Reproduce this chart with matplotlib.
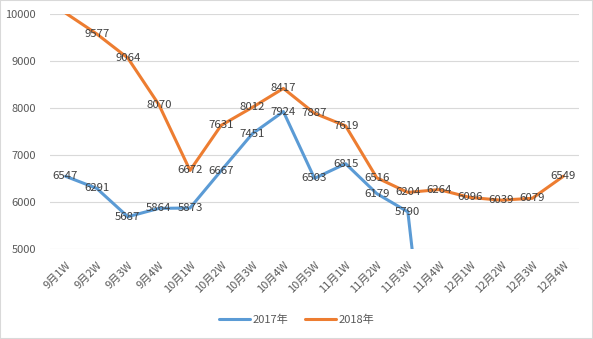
import numpy as np
import matplotlib.pyplot as plt

plt.rcParams['font.family'] = ['Noto Sans CJK SC', 'DejaVu Sans']

# data
weeks = ['9月1W', '9月2W', '9月3W', '9月4W', '10月1W', '10月2W', '10月3W', '10月4W',
         '10月5W', '11月1W', '11月2W', '11月3W', '11月4W', '12月1W', '12月2W',
         '12月3W', '12月4W']
sales_2017 = [6547, 6291, 5687, 5864, 5873, 6667, 7451, 7924, 6503, 6815, 6179, 5790,
              0, np.nan, np.nan, np.nan, np.nan]
sales_2018 = [10020, 9577, 9064, 8070, 6672, 7631, 8012, 8417, 7887, 7619, 6516, 6204,
              6264, 6096, 6039, 6079, 6549]

ymin, ymax = 5000, 10000

fig = plt.figure(figsize=(5.93, 3.39), dpi=100)
ax = fig.add_axes([50/593, 1-249/339, 529/593, 235/339])

x = np.arange(len(weeks))
ax.plot(x, sales_2017, color='#5B9BD5', lw=2.2, label='2017年', solid_capstyle='round')
ax.plot(x, sales_2018, color='#ED7D31', lw=2.2, label='2018年', solid_capstyle='round')

# data labels (only inside the axis range, like Excel)
for series in (sales_2017, sales_2018):
    for i, v in enumerate(series):
        if np.isnan(v) or v < ymin or v > ymax:
            continue
        ax.text(i, v, str(int(v)), ha='center', va='center', fontsize=8.2,
                color='#404040')

ax.set_xlim(-0.5, len(weeks) - 0.5)
ax.set_ylim(ymin, ymax)
ax.set_yticks(np.arange(5000, 10001, 1000))
ax.set_xticks(x)
ax.set_xticklabels(weeks, rotation=45, ha='right', va='top', rotation_mode='anchor')
ax.tick_params(axis='both', length=0, labelsize=8, labelcolor='#595959')
ax.tick_params(axis='y', pad=10)
ax.tick_params(axis='x', pad=8)
ax.grid(axis='y', color='#D9D9D9', lw=0.8)
ax.set_axisbelow(True)
for s in ax.spines.values():
    s.set_visible(False)

fig.legend(loc='center', bbox_to_anchor=(0.5, 1-320/339), ncol=2, frameon=False,
           fontsize=8, labelcolor='#595959', handlelength=2.8, columnspacing=1.5,
           handletextpad=0.2)

# light frame around the chart
fig.patches.append(plt.Rectangle((0, 0), 1, 1, transform=fig.transFigure, fill=False,
                                 edgecolor='#D9D9D9', lw=1.5))

plt.savefig('out.png', dpi=100)
